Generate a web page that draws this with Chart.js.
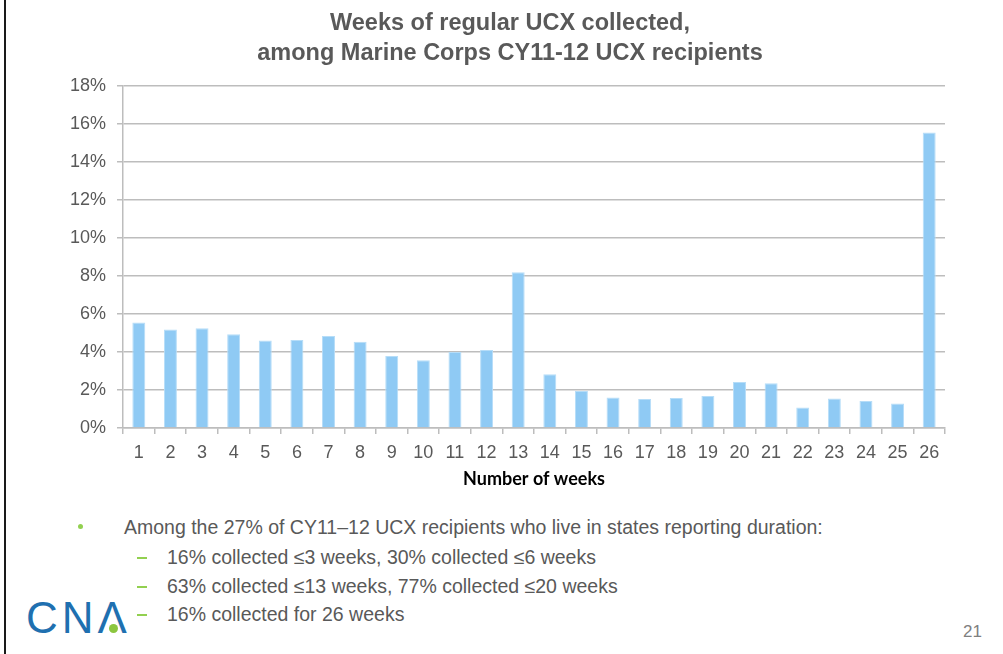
<!DOCTYPE html>
<html>
<head>
<meta charset="utf-8">
<script src="https://cdn.jsdelivr.net/npm/chart.js@4.4.1/dist/chart.umd.min.js"></script>
<style>
  body { margin: 0; background: #fff; font-family: "Liberation Sans", Arial, sans-serif; }
  #wrap { position: absolute; left: 0; top: 0; width: 1003px; height: 495px; }
  .edge { position: absolute; left: 4px; top: 0; width: 2px; height: 654px; background: #1a1a1a; }
  .title { position: absolute; left: 10px; top: 7px; width: 1000px; text-align: center; color: #595959;
           font-size: 23.5px; font-weight: bold; line-height: 30px; }
  .notes { position: absolute; left: 0; top: 0; color: #595959; font-size: 19.5px; }
  .notes div { position: absolute; white-space: nowrap; line-height: 22px; }
  .dot { position: absolute; width: 5px; height: 5px; border-radius: 50%; background: #92d050; }
  .dash { position: absolute; width: 10px; height: 2px; background: #92d050; }
  .logo { position: absolute; left: 26px; top: 594px; font-size: 44px; color: #1f70b0; letter-spacing: 4px; line-height: 48px; }
  .logo-dot { position: absolute; left: 109px; top: 624px; width: 9px; height: 9px; border-radius: 50%; background: #8cc63f; }
  .page { position: absolute; left: 963px; top: 622px; font-size: 17px; color: #808080; }
</style>
</head>
<body>
<div class="edge"></div>
<div id="wrap"><canvas id="myChart"></canvas></div>
<div class="title" id="title"></div>

<div class="notes">
  <span class="dot" style="left:78px;top:524px"></span>
  <div style="left:124px;top:516px">Among the 27% of CY11–12 UCX recipients who live in states reporting duration:</div>
  <span class="dash" style="left:137px;top:557px"></span>
  <div style="left:167px;top:546px">16% collected ≤3 weeks, 30% collected ≤6 weeks</div>
  <span class="dash" style="left:137px;top:586px"></span>
  <div style="left:167px;top:575px">63% collected ≤13 weeks, 77% collected ≤20 weeks</div>
  <span class="dash" style="left:137px;top:614px"></span>
  <div style="left:167px;top:603px">16% collected for 26 weeks</div>
</div>

<div class="logo">CNΛ</div>
<span class="logo-dot"></span>
<div class="page">21</div>

<script>
// datos
var weeks = ["1", "2", "3", "4", "5", "6", "7", "8", "9", "10", "11", "12", "13",
  "14", "15", "16", "17", "18", "19", "20", "21", "22", "23", "24", "25", "26"];
var pctCollected = [5.55, 5.18, 5.25, 4.93, 4.6, 4.63, 4.84, 4.54, 3.79, 3.57, 4.0, 4.1, 8.2,
  2.83, 1.95, 1.6, 1.53, 1.58, 1.68, 2.42, 2.36, 1.08, 1.55, 1.42, 1.29, 15.55];
var yMax = 18;
var yStep = 2;

var titleLines = ["Weeks of regular UCX collected,", "among Marine Corps CY11-12 UCX recipients"];
var xTitle = "Number of weeks";

// titulo (centrado sobre la diapositiva, no sobre el canvas)
var titleEl = document.getElementById("title");
titleLines.forEach(function (t) {
  var d = document.createElement("div");
  d.textContent = t;
  titleEl.appendChild(d);
});

var gridGray = "#bdbdbd";
var tickFont = { family: "Liberation Sans", size: 18 };

var ctx = document.getElementById("myChart").getContext("2d");

var chart = new Chart(ctx, {
  type: "bar",
  data: {
    labels: weeks,
    datasets: [
      {
        label: "Share of recipients",
        backgroundColor: "#8fcaf4",
        borderColor: "#b6ddf8",
        borderWidth: 1,
        barPercentage: 0.41,
        categoryPercentage: 1,
        data: pctCollected,
      },
    ],
  },
  options: {
    responsive: true,
    maintainAspectRatio: false,
    animation: false,
    layout: { padding: { left: 0, right: 58, top: 86, bottom: 0 } },
    plugins: {
      legend: { display: false },
      tooltip: { enabled: false },
      title: { display: false },
    },
    scales: {
      x: {
        afterFit: function (s) { s.height = 67; },
        grid: { offset: true, drawOnChartArea: false, color: gridGray, lineWidth: 1.5, tickLength: 6 },
        border: { color: gridGray, width: 1.5 },
        ticks: { color: "#595959", font: tickFont, padding: 8, maxRotation: 0, autoSkip: false },
        title: {
          display: true,
          text: xTitle,
          color: "#000",
          font: { family: "Lato", size: 18, weight: "bold", lineHeight: 1.2 },
          padding: { top: 0, bottom: 5 },
        },
      },
      y: {
        min: 0,
        max: yMax,
        afterFit: function (s) { s.width = 123; },
        grid: { color: gridGray, lineWidth: 1.5, tickLength: 6 },
        border: { color: gridGray, width: 1.5 },
        ticks: {
          stepSize: yStep,
          color: "#595959",
          font: tickFont,
          padding: 11,
          callback: function (v) { return v + "%"; },
        },
      },
    },
  },
});
</script>
</body>
</html>
